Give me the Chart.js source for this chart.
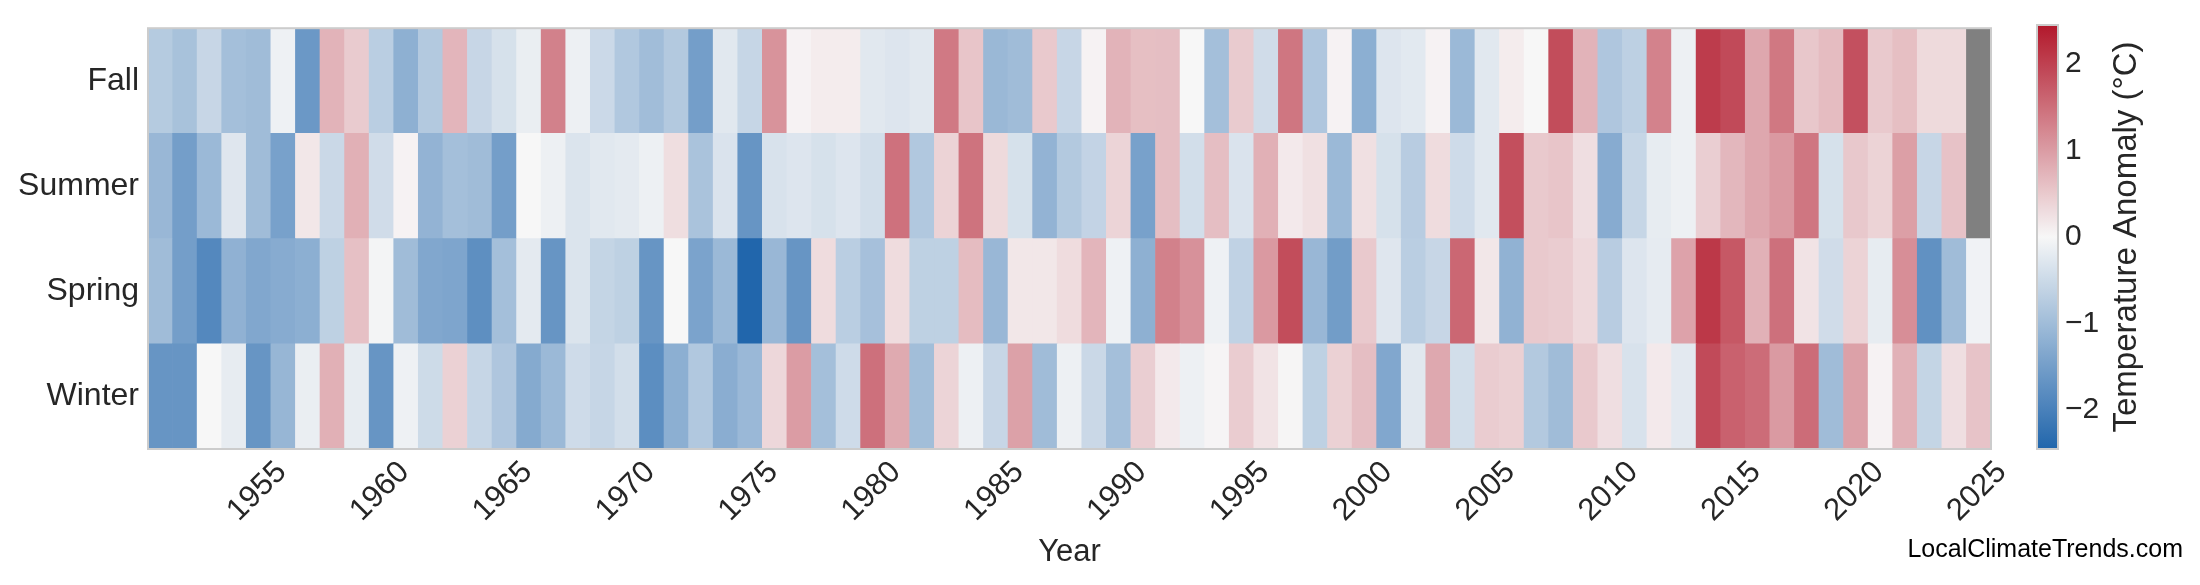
<!DOCTYPE html>
<html>
<head>
<meta charset="utf-8">
<script src="https://cdn.jsdelivr.net/npm/chart.js@4.4.1/dist/chart.umd.min.js"></script>
<style>
  html, body { margin: 0; padding: 0; background: #ffffff; }
  #wrap { position: relative; width: 2200px; height: 585px; background: #ffffff; }
  #wrap canvas { position: absolute; left: 0; top: 0; }
</style>
</head>
<body>
<div id="wrap">
  <canvas id="heat" width="2200" height="585"></canvas>
  <canvas id="cbar" width="2200" height="585"></canvas>
</div>
<script>
// ---------------- data ----------------
const years = [1951,1952,1953,1954,1955,1956,1957,1958,1959,1960,
  1961,1962,1963,1964,1965,1966,1967,1968,1969,1970,
  1971,1972,1973,1974,1975,1976,1977,1978,1979,1980,
  1981,1982,1983,1984,1985,1986,1987,1988,1989,1990,
  1991,1992,1993,1994,1995,1996,1997,1998,1999,2000,
  2001,2002,2003,2004,2005,2006,2007,2008,2009,2010,
  2011,2012,2013,2014,2015,2016,2017,2018,2019,2020,
  2021,2022,2023,2024,2025];

const seasons = ['Fall', 'Summer', 'Spring', 'Winter']; // top to bottom

const fall = [-0.75,-0.9,-0.55,-0.95,-1.0,-0.1,-1.6,0.75,0.48,-0.7,
  -1.2,-0.78,0.72,-0.55,-0.38,-0.15,1.3,-0.12,-0.5,-0.8,
  -0.98,-0.78,-1.5,-0.25,-0.56,1.1,0.05,0.12,0.12,-0.25,
  -0.3,-0.25,1.38,0.55,-1.07,-1.0,0.5,-0.55,0.05,0.75,
  0.62,0.63,0.0,-0.95,0.48,-0.45,1.42,-0.82,0.05,-1.22,
  -0.3,-0.24,0.05,-1.05,-0.25,0.12,0.0,1.87,0.75,-0.82,
  -0.66,1.28,-0.12,2.05,1.9,0.88,1.4,0.53,0.65,1.83,
  0.5,0.62,0.32,0.32,null];

const summer = [-1.08,-1.5,-1.05,-0.28,-1.0,-1.45,0.18,-0.52,0.78,-0.45,
  0.05,-1.15,-0.95,-1.0,-1.5,0.0,-0.12,-0.32,-0.25,-0.22,
  -0.12,0.28,-0.88,-0.33,-1.65,-0.35,-0.3,-0.38,-0.3,-0.42,
  1.47,-0.8,0.4,1.45,0.32,-0.38,-1.15,-0.78,-0.6,0.38,
  -1.45,0.63,-0.42,0.63,-0.33,0.78,0.15,0.25,-1.05,0.25,
  -0.38,-0.72,0.3,-0.47,-0.25,1.85,0.5,0.55,0.27,-1.28,
  -0.56,-0.18,-0.12,0.45,0.7,0.88,1.03,1.42,-0.38,0.52,
  0.4,0.97,-0.55,0.58,null];

const spring = [-1.0,-1.5,-1.87,-1.18,-1.35,-1.28,-1.22,-0.65,0.6,-0.05,
  -1.0,-1.35,-1.38,-1.75,-0.95,-0.22,-1.65,-0.32,-0.58,-0.65,
  -1.65,0.0,-1.42,-1.05,-2.45,-1.08,-1.65,0.3,-0.7,-0.93,
  0.3,-0.65,-0.65,0.65,-1.08,0.18,0.18,0.3,0.72,-0.1,
  -1.2,1.3,1.12,-0.1,-0.63,1.03,1.87,-1.08,-1.52,0.5,
  -0.28,-0.7,-0.55,1.58,0.18,-1.17,0.5,0.47,0.33,-0.72,
  -0.3,-0.2,0.93,2.1,1.75,0.77,1.48,0.22,-0.45,0.4,
  -0.18,1.15,-1.72,-1.0,-0.08];

const winter = [-1.65,-1.65,0.0,-0.18,-1.65,-1.1,-0.15,0.78,-0.18,-1.65,
  -0.1,-0.48,0.42,-0.56,-0.82,-1.3,-1.05,-0.47,-0.56,-0.42,
  -1.78,-1.22,-0.8,-1.25,-1.06,0.35,1.0,-0.95,-0.47,1.48,
  0.85,-0.97,0.38,-0.12,-0.55,0.95,-1.0,-0.12,-0.52,-0.95,
  0.45,0.15,-0.12,0.03,0.47,0.22,0.02,-0.65,0.42,0.63,
  -1.35,-0.25,0.87,-0.42,0.47,0.43,-0.78,-1.0,0.5,0.27,
  -0.35,0.15,-0.23,1.9,1.65,1.53,1.02,1.53,-1.0,0.95,
  0.05,0.77,-0.58,0.27,0.57];

const colorbarTicks = [-2, -1, 0, 1, 2];
const vmin = -2.45, vmax = 2.45;

// ---------------- colour map ----------------
const C_LOW = [33, 102, 172], C_MID = [247, 247, 247], C_HIGH = [178, 24, 43];
const MISSING = '#808080';
function colorFor(v) {
  if (v === null || v === undefined) return MISSING;
  let t = Math.max(-1, Math.min(1, v / vmax));
  const end = t < 0 ? C_LOW : C_HIGH;
  t = Math.abs(t);
  const c = C_MID.map((m, k) => Math.round(m + (end[k] - m) * t));
  return 'rgb(' + c.join(',') + ')';
}

Chart.defaults.font.family = '"Liberation Sans", Arial, sans-serif';
Chart.defaults.color = '#262626';
Chart.defaults.animation = false;

// rows from bottom (index 0) to top
const rowNames = seasons.slice().reverse();
const rowData = { Fall: fall, Summer: summer, Spring: spring, Winter: winter };

const borderPlugin = {
  id: 'frame',
  afterDatasetsDraw(chart) {
    const a = chart.chartArea, ctx = chart.ctx;
    ctx.save();
    ctx.strokeStyle = '#cccccc';
    ctx.lineWidth = 2;
    ctx.strokeRect(a.left, a.top, a.right - a.left, a.bottom - a.top);
    ctx.restore();
  }
};

const creditPlugin = {
  id: 'credit',
  afterDraw(chart) {
    const ctx = chart.ctx;
    ctx.save();
    ctx.font = '25px "Liberation Sans", Arial, sans-serif';
    ctx.fillStyle = '#000000';
    ctx.textAlign = 'right';
    ctx.textBaseline = 'alphabetic';
    ctx.fillText('LocalClimateTrends.com', 2183, 557);
    ctx.restore();
  }
};

new Chart(document.getElementById('heat'), {
  type: 'bar',
  data: {
    labels: years.map(String),
    datasets: rowNames.map(name => ({
      label: name,
      data: years.map(() => 1),
      backgroundColor: rowData[name].map(colorFor),
      borderWidth: 0,
      barPercentage: 1,
      categoryPercentage: 1
    }))
  },
  options: {
    responsive: false,
    devicePixelRatio: 1,
    layout: { padding: { left: 0, top: 15, right: 209, bottom: 0 } },
    plugins: { legend: { display: false }, tooltip: { enabled: false } },
    scales: {
      x: {
        type: 'category',
        stacked: true,
        offset: true,
        grid: { display: false, drawTicks: false },
        border: { display: false },
        ticks: {
          autoSkip: false,
          minRotation: 45,
          maxRotation: 45,
          labelOffset: 23,
          padding: 5,
          font: { size: 31 },
          color: '#262626',
          callback: (val, idx) => (years[idx] % 5 === 0 ? String(years[idx]) : null)
        },
        title: {
          display: true,
          text: 'Year',
          font: { size: 31 },
          color: '#262626',
          padding: { top: 0, bottom: 14 }
        },
        afterFit: s => { s.height = 136; }
      },
      y: {
        type: 'linear',
        stacked: true,
        min: 0,
        max: rowNames.length,
        grid: { display: false, drawTicks: false },
        border: { display: false },
        afterBuildTicks: s => { s.ticks = rowNames.map((n, i) => ({ value: i + 0.5 })); },
        ticks: {
          padding: 9,
          font: { size: 32 },
          color: '#262626',
          callback: v => rowNames[Math.floor(v)]
        },
        afterFit: s => { s.width = 148; }
      }
    }
  },
  plugins: [borderPlugin, creditPlugin]
});

// ---------------- colour bar ----------------
const cbarLabelPlugin = {
  id: 'cbarLabel',
  afterDraw(chart) {
    const ctx = chart.ctx;
    const a = chart.chartArea;
    ctx.save();
    ctx.translate(2127, (a.top + a.bottom) / 2);
    ctx.rotate(-Math.PI / 2);
    ctx.font = '33px "Liberation Sans", Arial, sans-serif';
    ctx.fillStyle = '#262626';
    ctx.textAlign = 'center';
    ctx.textBaseline = 'middle';
    ctx.fillText('Temperature Anomaly (\u00B0C)', 0, 0);
    ctx.restore();
  }
};

new Chart(document.getElementById('cbar'), {
  type: 'bar',
  data: {
    labels: [''],
    datasets: [{
      data: [[vmin, vmax]],
      backgroundColor: (c) => {
        const chart = c.chart;
        if (!chart.chartArea) return C_MID;
        const ys = chart.scales.y;
        const g = chart.ctx.createLinearGradient(0, ys.getPixelForValue(vmin), 0, ys.getPixelForValue(vmax));
        const n = 48;
        for (let k = 0; k <= n; k++) {
          g.addColorStop(k / n, colorFor(vmin + (vmax - vmin) * k / n));
        }
        return g;
      },
      borderWidth: 0,
      barPercentage: 1,
      categoryPercentage: 1
    }]
  },
  options: {
    responsive: false,
    devicePixelRatio: 1,
    layout: { padding: { left: 2037, top: 15, right: 0, bottom: 136 } },
    plugins: { legend: { display: false }, tooltip: { enabled: false } },
    scales: {
      x: { display: false, offset: true },
      y: {
        type: 'linear',
        position: 'right',
        min: vmin,
        max: vmax,
        grid: { display: false, drawTicks: false },
        border: { display: false },
        afterBuildTicks: s => { s.ticks = colorbarTicks.map(v => ({ value: v })); },
        ticks: {
          padding: 7,
          font: { size: 30 },
          color: '#262626',
          callback: v => (v < 0 ? '\u2212' + Math.abs(v) : String(v))
        },
        afterFit: s => { s.width = 142; }
      }
    }
  },
  plugins: [borderPlugin, cbarLabelPlugin]
});
</script>
</body>
</html>
